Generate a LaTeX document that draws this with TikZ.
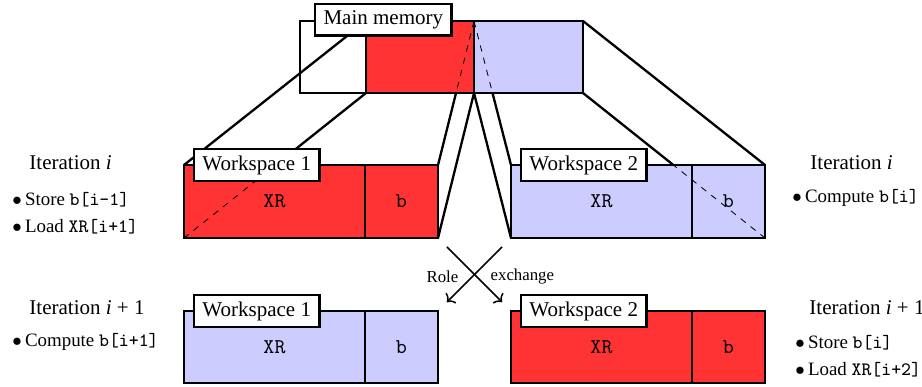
\documentclass[tikz,border=0pt]{standalone}
\usepackage{mathptmx}
\usepackage[no-math]{fontspec}
\setmainfont{Liberation Serif}
\usetikzlibrary{fit,arrows.meta}

\colorlet{busy}{red!80}
\colorlet{idle}{blue!20}
\newcommand\code[1]{\texttt{#1}}
\newcommand\job[1]{$\bullet$\,#1}

\tikzset{
  cell/.style={draw, line width=1.4pt, inner sep=0pt, outer sep=0pt},
  spot/.style={inner sep=0pt, outer sep=0pt},
  tag/.style={draw, line width=1pt, fill=white, inner xsep=4pt, inner ysep=3pt},
  link/.style={line width=1.1pt},
  hidden/.style={thin, dashed},
  swap/.style={line width=0.7pt, -{To[length=3pt,width=7pt]}, shorten <=6pt, shorten >=6pt},
  todo/.style={anchor=west, align=left, font=\small}
}

\begin{document}
\begin{tikzpicture}[x=0.476pt, y=-0.476pt]
\useasboundingbox (0,0) rectangle (922,386);
% main memory
\node[cell, fit={(300,21) (366,93)}] (mmfree) {};
\node[spot, fit={(366,21) (474,93)}] (mmred) {};
\node[spot, fit={(474,21) (583,93)}] (mmblue) {};
% workspaces, iteration i
\node[spot, fit={(184,165) (365,238)}] (ws1xr) {};
\node[spot, fit={(365,165) (438,238)}] (ws1b) {};
\node[spot, fit={(511,165) (692,238)}] (ws2xr) {};
\node[spot, fit={(692,165) (765,238)}] (ws2b) {};

\draw[link] (mmred.north west) -- (ws1xr.north west);
\draw[link] (mmred.south west) -- (ws1xr.south west);
\draw[link] (mmred.north east) -- (ws1b.north east);
\draw[link] (mmred.south east) -- (ws1b.south east);
\draw[link] (mmblue.north west) -- (ws2xr.north west);
\draw[link] (mmblue.south west) -- (ws2xr.south west);
\draw[link] (mmblue.north east) -- (ws2b.north east);
\draw[link] (mmblue.south east) -- (ws2b.south east);

\node[cell, fill=busy, fit=(mmred)] {};
\node[cell, fill=idle, fit=(mmblue)] {};
\node[cell, fill=busy, fit=(ws1xr), label=center:\texttt{XR}] {};
\node[cell, fill=busy, fit=(ws1b), label=center:\texttt{b}] {};
\node[cell, fill=idle, fit=(ws2xr), label=center:\texttt{XR}] {};
\node[cell, fill=idle, fit=(ws2b), label=center:\texttt{b}] {};

% hidden parts
\draw[hidden] (mmred.south west) -- (ws1xr.south west);
\draw[hidden] (mmred.north east) -- (ws1b.north east);
\draw[hidden] (mmblue.north west) -- (ws2xr.north west);
\draw[hidden] (mmblue.south east) -- (ws2b.south east);

\node[tag, anchor=west] (mmtag) at ([xshift=6.7pt, yshift=0.5pt]mmfree.north west) {Main memory};
\node[tag, anchor=west] (ws1tag) at ([xshift=4.3pt]ws1xr.north west) {Workspace 1};
\node[tag, anchor=west] (ws2tag) at ([xshift=4.3pt]ws2xr.north west) {Workspace 2};

% workspaces, iteration i+1
\node[cell, fill=idle, fit={(184,311) (365,383)}, label=center:\texttt{XR}] (ws3xr) {};
\node[cell, fill=idle, fit={(365,311) (438,383)}, label=center:\texttt{b}] (ws3b) {};
\node[cell, fill=busy, fit={(511,311) (692,383)}, label=center:\texttt{XR}] (ws4xr) {};
\node[cell, fill=busy, fit={(692,311) (765,383)}, label=center:\texttt{b}] (ws4b) {};
\node[tag, anchor=west] (ws3tag) at ([xshift=4.3pt]ws3xr.north west) {Workspace 1};
\node[tag, anchor=west] (ws4tag) at ([xshift=4.3pt]ws4xr.north west) {Workspace 2};

\draw[swap] (ws1b.south east) -- (ws4xr.north west)
  node[midway, left, xshift=-4pt, yshift=-1pt, font=\footnotesize] (role) {Role};
\draw[swap] (ws2xr.south west) -- (ws3b.north east)
  node[midway, right, xshift=4pt, yshift=-1pt, font=\footnotesize] (exch) {exchange};

% iteration notes
\node[anchor=west] (itl1) at (22,163) {Iteration \textit{i}};
\node[todo] (dol1) at (5,213)
  {\job{Store \code{b[i-1]}}\\[2pt] \job{Load \code{XR[i+1]}}};
\node[anchor=west] (itr1) at (803,163) {Iteration \textit{i}};
\node[todo] (dor1) at (785,198) {\job{Compute \code{b[i]}}};
\node[anchor=west] (itl2) at (22,308) {Iteration \textit{i} + 1};
\node[todo] (dol2) at (5,342) {\job{Compute \code{b[i+1]}}};
\node[anchor=west] (itr2) at (802,308) {Iteration \textit{i} + 1};
\node[todo] (dor2) at (788,356)
  {\job{Store \code{b[i]}}\\[2pt] \job{Load \code{XR[i+2]}}};
\end{tikzpicture}
\end{document}
